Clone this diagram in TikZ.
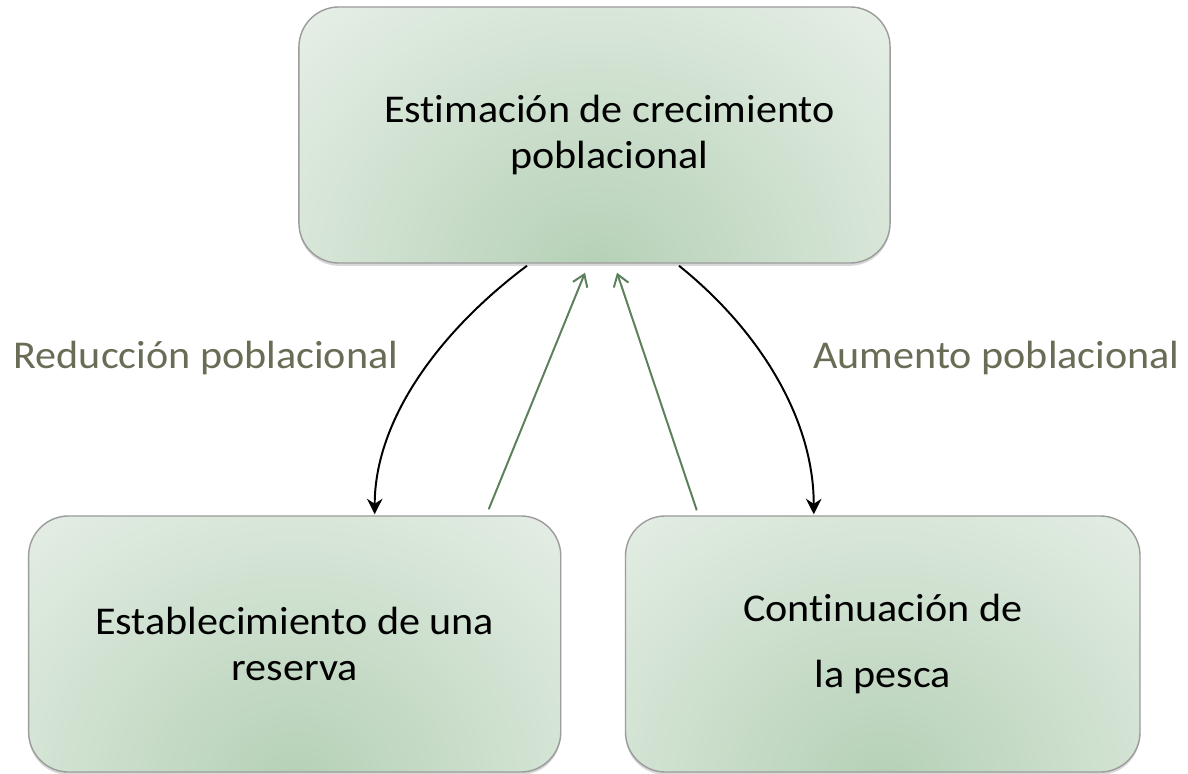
\documentclass[tikz,border=0pt]{standalone}
\usepackage{fontspec}
\setmainfont{Carlito}[FakeStretch=1.07,Ligatures=NoCommon]
\usetikzlibrary{arrows.meta,calc,shadows}
\definecolor{boxgreen}{HTML}{B5D0B6}
\definecolor{boxpale}{HTML}{F0F5F0}
\definecolor{boxline}{HTML}{9C9C9C}
\definecolor{labelgray}{HTML}{6A6C56}
\definecolor{arrowgreen}{HTML}{5B805B}

\begin{document}
\begin{tikzpicture}[x=0.025cm,y=-0.025cm,font=\fontsize{28}{33}\selectfont]
\tikzstyle{box}=[draw=boxline,line width=1pt,rounded corners=1cm,fill=boxpale,minimum height=6.4cm,align=center,
  drop shadow={opacity=0.3,shadow xshift=0pt,shadow yshift=-2pt},
  path picture={\shade[inner color=boxgreen,outer color=boxpale] ($(path picture bounding box.south)+(0,-0.3cm)$) ellipse (12.5cm and 11cm);}]
\tikzstyle{flow}=[line width=1.4pt,-{Stealth[length=11pt,width=11pt]}]
\tikzstyle{back}=[line width=1.4pt,arrowgreen,-{Straight Barb[length=8pt,width=11pt]}]
\useasboundingbox[fill=white] (0,0) rectangle (1188,774);
% boxes
\node[box,minimum width=14.775cm] (estim) at (594.5,135) {\hspace*{0.75cm}Estimación de crecimiento\\\hspace*{0.75cm}poblacional};
\node[box,minimum width=13.3cm] (reserva) at (294.7,644) {Establecimiento de una\\reserva};
\node[box,minimum width=12.86cm] (pesca) at (882.75,644) {Continuación de\\[14pt]la pesca};
% labels
\node[text=labelgray,anchor=base] (reduc) at (206,368) {Reducción poblacional};
\node[text=labelgray,anchor=base] (aumento) at (996.5,368) {Aumento poblacional};
% arrows
\draw[flow] ($(estim.south)+(-67.5,2)$) .. controls +(-87,65) and +(0,-95) .. ($(reserva.north)+(80,-1)$);
\draw[flow] ($(estim.south)+(84.5,2)$) .. controls +(81,65) and +(0,-95) .. ($(pesca.north)+(-69,-1)$);
\draw[back] ($(reserva.north)+(194,-6)$) -- ($(estim.south)+(-9.5,9)$);
\draw[back] ($(pesca.north)+(-186,-5)$) -- ($(estim.south)+(22.5,9)$);
\end{tikzpicture}
\end{document}
